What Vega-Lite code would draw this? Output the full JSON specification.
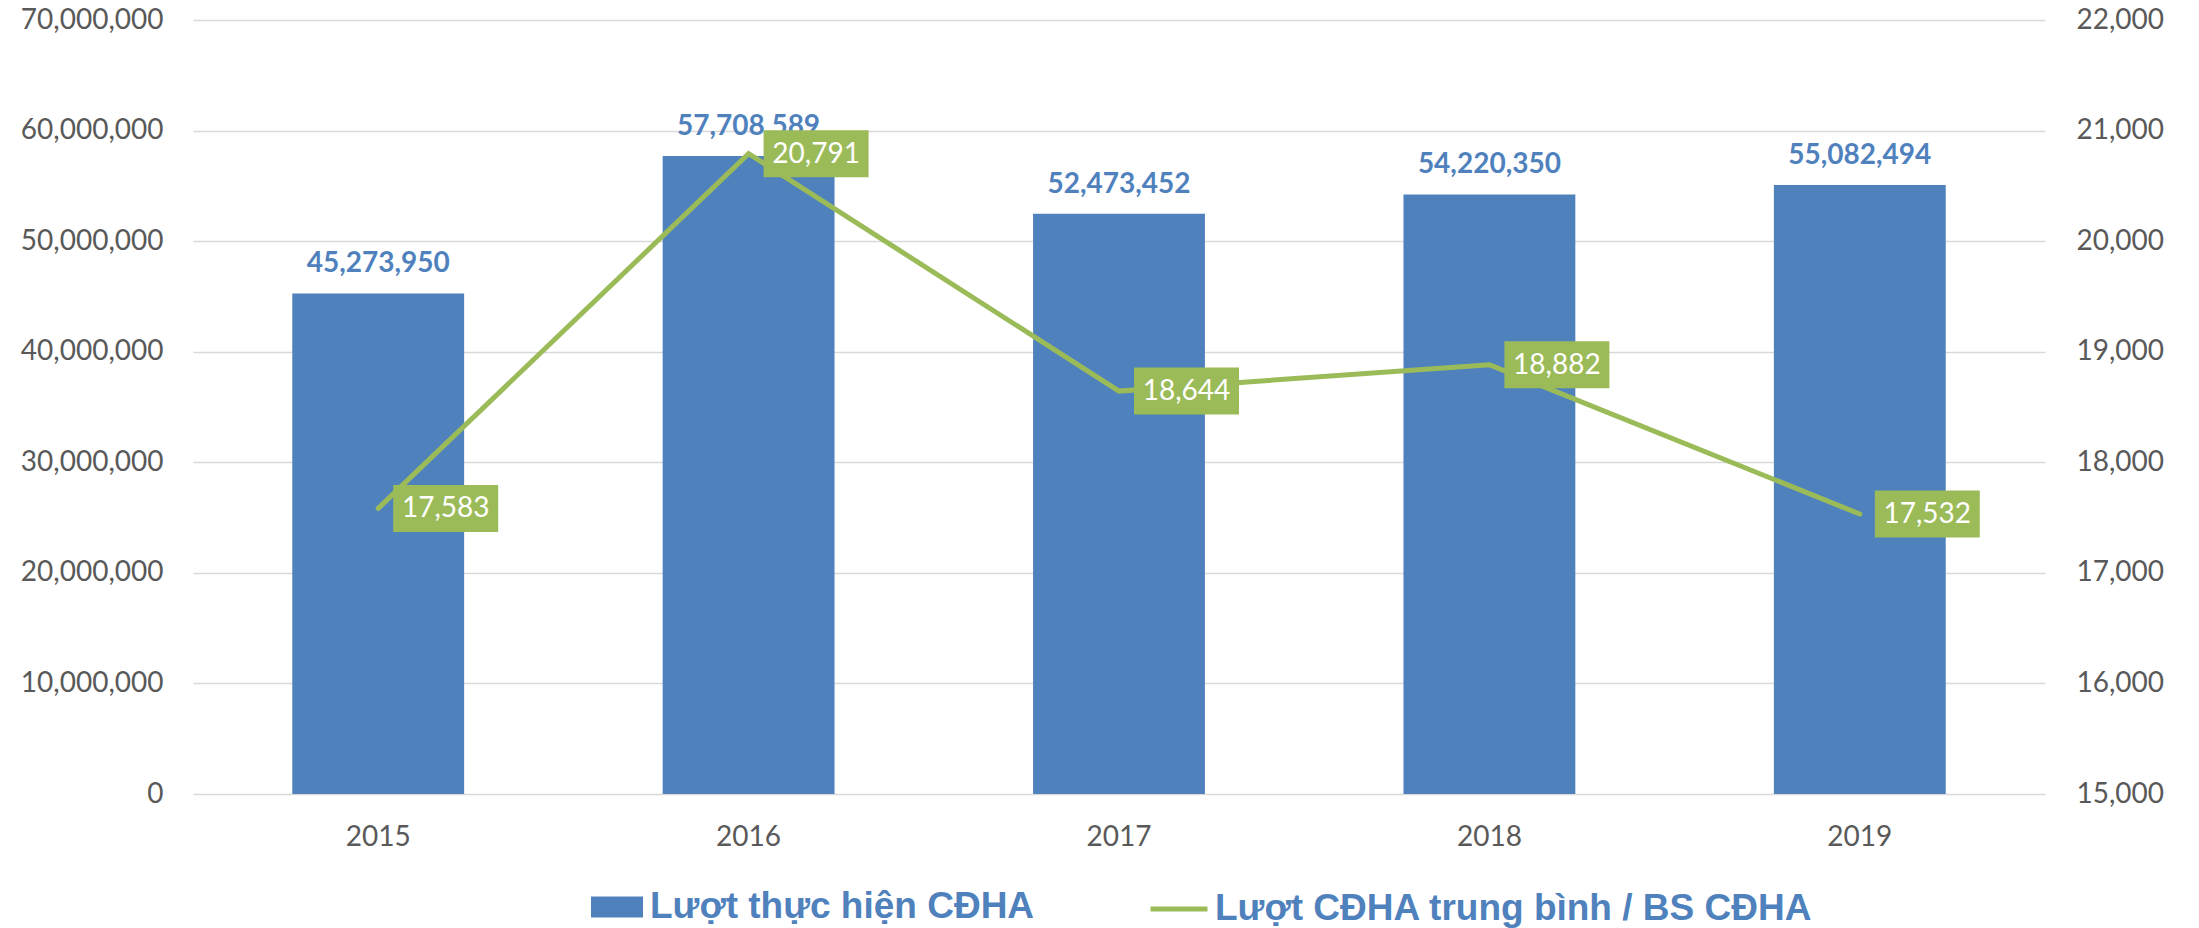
{
  "$schema": "https://vega.github.io/schema/vega-lite/v6.json",
  "autosize": "none",
  "width": 1852,
  "height": 774,
  "padding": {"left": 193, "top": 20, "right": 154, "bottom": 134},
  "background": "white",
  "config": {"view": {"stroke": null}, "font": "Lato"},
  "data": {"values": [
    {"year": "2015", "visits": 45273950, "avg": 17583},
    {"year": "2016", "visits": 57708589, "avg": 20791},
    {"year": "2017", "visits": 52473452, "avg": 18644},
    {"year": "2018", "visits": 54220350, "avg": 18882},
    {"year": "2019", "visits": 55082494, "avg": 17532}
  ]},
  "encoding": {
    "x": {"field": "year", "type": "ordinal",
      "scale": {"type": "band", "paddingInner": 0.536, "paddingOuter": 0.268},
      "axis": {"title": null, "domain": false, "ticks": false, "labelAngle": 0,
        "labelFont": "Lato", "labelFontSize": 28, "labelColor": "#595959", "labelPadding": 29}}
  },
  "layer": [
    {
      "layer": [
        {
          "mark": {"type": "bar"},
          "encoding": {
            "y": {"field": "visits", "type": "quantitative",
              "scale": {"domain": [0, 70000000], "nice": false},
              "axis": {"orient": "left", "title": null, "values": [0,10000000,20000000,30000000,40000000,50000000,60000000,70000000],
                "format": ",.0f", "domain": false, "ticks": false, "grid": true, "gridColor": "#d9d9d9", "gridWidth": 1.5,
                "labelFont": "Lato", "labelFontSize": 28, "labelColor": "#595959", "labelPadding": 30}},
            "color": {"datum": "Lượt thực hiện CĐHA", "type": "nominal",
              "scale": {"range": ["#4F81BD"]},
              "legend": {"orient": "none", "legendX": 398, "legendY": 861, "title": null, "padding": 0,
                "symbolType": "M-1,-0.404H1V0.404H-1Z", "symbolSize": 2704, "symbolStrokeWidth": 0,
                "labelFont": "Liberation Sans", "labelFontWeight": "bold", "labelFontSize": 37,
                "labelColor": "#4F81BD", "labelLimit": 1000, "labelOffset": 7}}
          }
        },
        {
          "mark": {"type": "text", "font": "Lato", "fontWeight": "bold", "fontSize": 28, "color": "#4F81BD",
            "baseline": "alphabetic", "align": "center", "dy": -21},
          "encoding": {
            "y": {"field": "visits", "type": "quantitative"},
            "text": {"field": "visits", "type": "quantitative", "format": ",.0f"}
          }
        }
      ]
    },
    {
      "layer": [
        {
          "mark": {"type": "line", "strokeWidth": 5, "strokeCap": "round", "strokeJoin": "miter"},
          "encoding": {
            "y": {"field": "avg", "type": "quantitative",
              "scale": {"domain": [15000, 22000], "nice": false, "zero": false},
              "axis": {"orient": "right", "title": null, "values": [15000,16000,17000,18000,19000,20000,21000,22000],
                "format": ",.0f", "domain": false, "ticks": false, "grid": false,
                "labelFont": "Lato", "labelFontSize": 28, "labelColor": "#595959", "labelPadding": 31}},
            "color": {"datum": "Lượt CĐHA trung bình / BS CĐHA", "type": "nominal",
              "scale": {"range": ["#9BBB59"]},
              "legend": {"orient": "none", "legendX": 955, "legendY": 858, "title": null, "padding": 0,
                "symbolType": "stroke", "symbolSize": 3249, "symbolStrokeWidth": 5,
                "labelFont": "Liberation Sans", "labelFontWeight": "bold", "labelFontSize": 37,
                "labelColor": "#4F81BD", "labelLimit": 1000, "labelOffset": 5}}
          }
        },
        {
          "mark": {"type": "point", "shape": "M0.638,-1H5.106V1H0.638Z", "size": 2209, "filled": true,
            "color": "#9BBB59", "opacity": 1, "strokeWidth": 0},
          "encoding": {
            "y": {"field": "avg", "type": "quantitative"}
          }
        },
        {
          "mark": {"type": "text", "font": "Lato", "fontSize": 28, "color": "white",
            "baseline": "middle", "align": "center", "dx": 67.5, "dy": 1},
          "encoding": {
            "y": {"field": "avg", "type": "quantitative"},
            "text": {"field": "avg", "type": "quantitative", "format": ",.0f"}
          }
        }
      ]
    }
  ],
  "resolve": {"scale": {"y": "independent", "color": "independent"}}
}
